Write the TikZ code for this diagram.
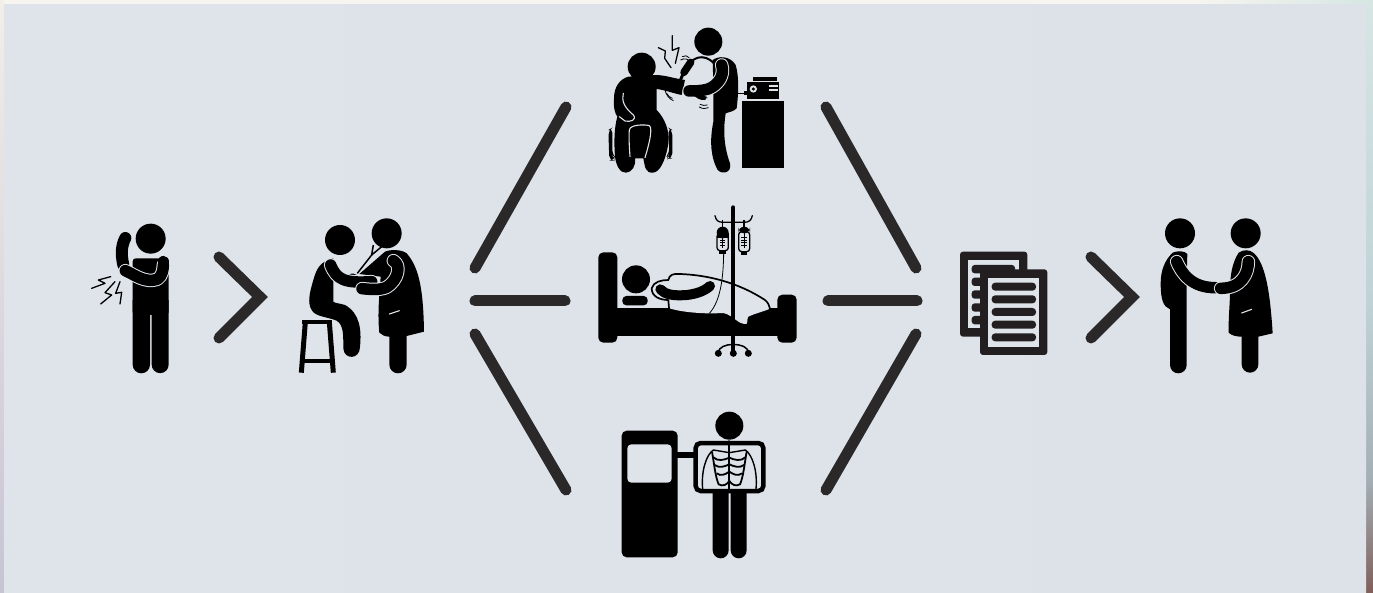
\documentclass[tikz,border=0pt]{standalone}
\definecolor{bgpanel}{HTML}{DEE4EA}
\definecolor{panelL}{HTML}{DFE4EA}
\definecolor{panelR}{HTML}{DCE2E8}
\definecolor{ink}{HTML}{000000}
\definecolor{chev}{HTML}{2A2828}
\definecolor{docink}{HTML}{231F20}
\definecolor{stripA}{HTML}{F6F5F0}
\definecolor{stripB}{HTML}{D6E6E3}
\definecolor{stripC}{HTML}{BFD3D6}
\definecolor{stripD}{HTML}{A3AFB5}
\definecolor{stripE}{HTML}{7F5F5A}
\definecolor{stripF}{HTML}{F3EEE8}
\definecolor{stripG}{HTML}{C8C3D3}
\tikzset{
  zoomed/.style n args={2}{shift={(#1,#2)},x=0.33333pt,y=-0.33333pt},
  connector/.style={draw=chev,line width=11pt,line cap=round,line join=miter},
  solidfig/.style={fill=ink,draw=none},
  cut/.style={draw=bgpanel,line width=1.1pt,line cap=round,line join=round},
  cutfill/.style={fill=bgpanel,draw=none},
  wire/.style={draw=ink,line width=1.3pt,line cap=round,line join=round},
  thinwire/.style={draw=ink,line width=0.8pt,line cap=round,line join=round},
}
\newcommand{\olimb}[2]{%
  \draw[bgpanel,line width=#1pt+2pt,line cap=round,line join=round] #2;
  \draw[ink,line width=#1pt,line cap=round,line join=round] #2;}
\newcommand{\plimb}[2]{%
  \draw[ink,line width=#1pt,line cap=round,line join=round] #2;}
\begin{document}
\begin{tikzpicture}[x=1pt,y=-1pt]
\useasboundingbox (0,0) rectangle (1373,593);
% backdrop strips
\fill[stripA] (0,0) rectangle (1373,6);
\shade[top color=stripF,bottom color=stripG] (0,0) rectangle (4,593);
\shade[left color=stripA,right color=stripB] (1200,0) rectangle (1373,5);
\shade[top color=stripB,bottom color=stripC] (1366,0) rectangle (1373,300);
\shade[top color=stripC,bottom color=stripD] (1366,300) rectangle (1373,480);
\shade[top color=stripD,bottom color=stripE] (1366,480) rectangle (1373,593);
\shade[left color=panelL,right color=panelR] (4,5) rectangle (1366,593);

% connectors
\coordinate (c1a) at (219,257); \coordinate (c1b) at (260,297); \coordinate (c1c) at (219,338);
\draw[connector] (c1a) -- (c1b) -- (c1c);
\coordinate (c2a) at (1091,257); \coordinate (c2b) at (1132,297); \coordinate (c2c) at (1091,338);
\draw[connector] (c2a) -- (c2b) -- (c2c);
\coordinate (l1a) at (475,268); \coordinate (l1b) at (566,107); \draw[connector] (l1a) -- (l1b);
\coordinate (l2a) at (475,301); \coordinate (l2b) at (565,301); \draw[connector] (l2a) -- (l2b);
\coordinate (l3a) at (475,334); \coordinate (l3b) at (566,490); \draw[connector] (l3a) -- (l3b);
\coordinate (r1a) at (826,107); \coordinate (r1b) at (916,268); \draw[connector] (r1a) -- (r1b);
\coordinate (r2a) at (828,301); \coordinate (r2b) at (917,301); \draw[connector] (r2a) -- (r2b);
\coordinate (r3a) at (826,490); \coordinate (r3b) at (916,334); \draw[connector] (r3a) -- (r3b);

% ---------- Figures 1 and 2 ----------
\begin{scope}[zoomed={70}{200}]
% pain man
\fill[ink] (242,116) circle (45);
\fill[ink,rounded corners=3] (188,175) -- (296,175) -- (296,345) -- (188,345) -- cycle;
\fill[ink] (188,300) -- (240,300) -- (240,494) arc (0:180:26) -- cycle;
\fill[ink] (245,300) -- (296,300) -- (296,494) arc (0:180:25.5) -- cycle;
\plimb{12}{(166,114) .. controls (155,135) and (152,160) .. (160,195)}
\olimb{11.5}{(166,212) .. controls (195,225) and (225,250) .. (262,238) .. controls (278,228) and (280,205) .. (280,195)}
\plimb{11.5}{(280,195) -- (280,185)}
\draw[wire] (122,230) -- (85,240) -- (105,250) -- (65,265);
\draw[wire] (135,245) -- (105,278) -- (125,285) -- (92,312);
\draw[wire] (150,245) -- (137,280) -- (155,277) -- (150,312);
% stool
\draw[ink,line width=4pt] (697,366) -- (787,366);
\draw[ink,line width=5pt] (706,366) -- (694,518);
\draw[ink,line width=5pt] (778,366) -- (790,518);
\draw[ink,line width=4pt] (700,482) -- (785,482);
% patient
\fill[ink] (810,120) circle (45);
\fill[ink] (790,175) .. controls (750,185) and (740,205) .. (730,240) .. controls (718,280) and (712,310) .. (725,330)
  .. controls (735,350) and (770,350) .. (800,362) .. controls (820,375) and (820,400) .. (820,445)
  .. controls (822,480) and (870,480) .. (870,440) .. controls (875,390) and (870,340) .. (825,315)
  .. controls (810,310) and (795,310) .. (790,305) -- (790,230) -- cycle;
% doctor
\fill[ink] (950,100) circle (45);
\fill[ink] (945,155) .. controls (960,148) and (995,148) .. (1010,160)
  .. controls (1045,200) and (1060,260) .. (1062,395) -- (1010,408) -- (1010,494) arc (0:180:26) -- (958,410)
  .. controls (945,410) and (935,405) .. (928,398) .. controls (922,340) and (928,290) .. (932,230) -- (868,222) -- cycle;
\draw[ink,line width=1.5pt] (910,135) -- (905,165) -- (862,220);
\draw[ink,line width=1.5pt] (935,140) -- (905,165);
\fill[ink,rounded corners=3] (835,221) rectangle (860,232);
\olimb{11.5}{(782,195) .. controls (800,240) and (825,250) .. (905,245)}
\olimb{11.5}{(970,182) .. controls (995,195) and (985,240) .. (950,262) .. controls (925,272) and (900,268) .. (876,266)}
\draw[cut] (958,342) -- (988,332);
\end{scope}

% ---------- Figure 3: therapy ----------
\begin{scope}[zoomed={590}{15}]
% chair
\fill[ink,rounded corners=5] (55,345) -- (67,338) -- (67,420) -- (73,425) -- (73,437) -- (58,437) -- cycle;
\fill[ink,rounded corners=5] (235,338) -- (247,345) -- (247,430) -- (232,432) -- (232,422) -- (238,415) -- cycle;
% patient
\fill[ink] (155,155) circle (42);
\fill[ink] (115,185) .. controls (90,192) and (72,215) .. (72,250) .. controls (70,280) and (75,295) .. (82,305)
 .. controls (72,340) and (72,385) .. (75,425) .. controls (78,450) and (90,475) .. (108,473)
 .. controls (125,472) and (138,455) .. (135,430) -- (160,430) .. controls (165,455) and (165,475) .. (190,473)
 .. controls (215,470) and (230,420) .. (235,385) .. controls (240,350) and (225,310) .. (200,285)
 -- (200,222) .. controls (225,225) and (250,235) .. (275,240) -- (285,195)
 .. controls (250,190) and (225,180) .. (195,180) -- cycle;
\draw[cut] (120,425) .. controls (118,395) and (116,365) .. (118,345) .. controls (120,328) and (165,328) .. (178,332) .. controls (190,340) and (175,395) .. (165,428);
\draw[cut] (100,235) .. controls (95,255) and (100,275) .. (130,300) .. controls (142,315) and (120,322) .. (105,318) -- (88,305);
% doctor
\fill[ink] (355,80) circle (42);
\fill[ink] (368,135) .. controls (385,122) and (420,122) .. (437,150) .. controls (448,185) and (445,240) .. (440,280)
 .. controls (430,290) and (420,290) .. (407,295) .. controls (400,340) and (400,390) .. (420,445)
 .. controls (428,478) and (385,482) .. (378,455) .. controls (358,410) and (362,360) .. (370,320) -- (370,210) -- cycle;
\draw[ink,line width=3pt,line cap=round] (282,170) -- (268,203);
\draw[ink,line width=7.5pt,line cap=round] (282,172) -- (302,142);
\draw[ink,line width=2pt,line cap=round] (290,158) .. controls (305,128) and (340,112) .. (372,145);
\olimb{11.5}{(395,150) .. controls (405,180) and (385,210) .. (355,222) .. controls (335,228) and (310,228) .. (297,228)}
\fill[ink,rounded corners=4] (305,238) -- (345,240) -- (355,252) -- (335,258) -- cycle;
% waves
\draw[thinwire] (277,125) .. controls (285,120) and (292,122) .. (297,128);
\draw[thinwire] (272,135) .. controls (283,128) and (295,132) .. (300,140);
\draw[thinwire] (230,235) .. controls (233,242) and (240,248) .. (247,250);
\draw[thinwire] (225,225) .. controls (228,240) and (238,252) .. (250,257);
\draw[thinwire] (330,268) .. controls (337,272) and (345,272) .. (352,270);
\draw[thinwire] (328,276) .. controls (337,282) and (348,282) .. (355,278);
% bolts
\draw[wire] (205,98) -- (226,108) -- (224,130) -- (243,158);
\draw[wire] (247,62) -- (247,106) -- (267,98) -- (256,145);
% machine
\fill[ink] (456,258) rectangle (581,458);
\draw[ink,line width=1pt] (430,235) -- (472,235);
\fill[ink] (462,228) rectangle (474,240);
\fill[ink] (472,200) rectangle (568,252);
\fill[ink] (490,186) rectangle (560,198);
\fill[bgpanel] (490,222) circle (11);
\fill[ink] (490,222) circle (5);
\fill[bgpanel] (538,211) rectangle (563,217);
\fill[bgpanel] (538,222) rectangle (563,228);
\end{scope}

% ---------- Figure 4: bed ----------
\begin{scope}[zoomed={590}{200}]
\fill[ink,rounded corners=5] (25,157) rectangle (82,428);
\fill[ink,rounded corners=5] (562,284) rectangle (620,428);
\fill[ink] (80,325) rectangle (565,408);
\fill[ink] (138,238) circle (42);
\fill[ink,rounded corners=4] (97,288) rectangle (173,316);
% blanket
\fill[cutfill] (235,240) .. controls (238,224) and (250,220) .. (270,222)
 .. controls (350,225) and (440,245) .. (525,300) .. controls (538,310) and (538,320) .. (540,326)
 .. controls (520,335) and (495,340) .. (475,350) .. controls (468,360) and (478,375) .. (462,372)
 .. controls (445,370) and (430,350) .. (410,342) .. controls (395,335) and (385,342) .. (360,340)
 .. controls (320,340) and (270,335) .. (238,325) -- (235,300) .. controls (210,300) and (185,290) .. (185,265)
 .. controls (190,245) and (215,240) .. (235,240) -- cycle;
\draw[ink,line width=1.7pt,line cap=round,line join=round] (237,325) -- (235,300) .. controls (210,300) and (185,290) .. (185,265)
 .. controls (190,245) and (215,240) .. (235,240) .. controls (238,224) and (250,220) .. (270,222)
 .. controls (350,225) and (440,245) .. (525,300) .. controls (535,308) and (538,318) .. (540,326);
\plimb{10}{(211,268) .. controls (225,284) and (250,288) .. (290,285) .. controls (320,282) and (345,272) .. (360,258)}
% IV stand
\draw[ink,line width=4pt,line cap=round] (430,22) -- (430,455);
\draw[ink,line width=1.5pt] (385,458) .. controls (385,425) and (475,425) .. (475,458);
\fill[ink] (385,460) circle (10.5);
\fill[ink] (430,460) circle (10.5);
\fill[ink] (475,460) circle (10.5);
\draw[ink,line width=1.3pt,line cap=round] (375,47) .. controls (378,62) and (385,67) .. (400,67) -- (462,67) .. controls (478,67) and (484,60) .. (487,47);
% left bag
\draw[ink,line width=1.5pt] (398,60) -- (398,85);
\fill[ink,rounded corners=6] (380,80) rectangle (416,115);
\fill[ink] (380,100) rectangle (416,115);
\draw[ink,line width=1.3pt,rounded corners=3] (381,100) rectangle (415,152);
\draw[ink,line width=0.9pt] (398,110) -- (398,145) (390,120) -- (406,120) (390,128) -- (406,128) (390,136) -- (406,136);
\fill[ink] (388,152) rectangle (408,162);
% right bag
\draw[ink,line width=1.5pt] (462,60) -- (462,85);
\fill[ink,rounded corners=6] (445,80) rectangle (480,100);
\draw[ink,line width=1.3pt,rounded corners=3] (446,95) rectangle (479,155);
\draw[ink,line width=0.9pt] (462,100) -- (462,145) (454,112) -- (470,112) (454,120) -- (470,120) (454,128) -- (470,128) (454,136) -- (470,136);
\fill[ink] (452,155) rectangle (472,165);
% tube
\draw[ink,line width=0.8pt] (401,160) .. controls (400,220) and (395,300) .. (358,340);
\end{scope}

% ---------- Figure 5: x-ray ----------
\begin{scope}[zoomed={610}{405}]
\fill[ink,rounded corners=5] (35,77) rectangle (203,457);
\fill[bgpanel,rounded corners=4] (52,118) rectangle (185,233);
\fill[ink] (200,140) rectangle (255,158);
\fill[ink] (358,62) circle (42);
\fill[ink] (308,260) -- (356,260) -- (356,436) arc (0:180:24) -- cycle;
\fill[ink] (362,260) -- (410,260) -- (410,436) arc (0:180:24) -- cycle;
\draw[ink,line width=4.5pt,rounded corners=5] (257,114) rectangle (460,258);
\draw[ink,line width=1.8pt,line cap=round] (358,108) -- (358,258);
\foreach \m/\s in {358/1,358/-1}{
 \begin{scope}[shift={(\m,0)},xscale=\s]
  \draw[ink,line width=1.4pt] (-80,252) .. controls (-85,200) and (-70,150) .. (-48,135) -- (0,143);
  \draw[ink,line width=1.8pt] (-52,140) .. controls (-45,180) and (-42,215) .. (-32,238) .. controls (-20,245) and (-8,240) .. (0,228);
  \draw[ink,line width=1.8pt] (-48,157) .. controls (-35,170) and (-15,165) .. (0,158);
  \draw[ink,line width=1.8pt] (-44,180) .. controls (-30,190) and (-15,185) .. (0,178);
  \draw[ink,line width=1.8pt] (-38,205) .. controls (-25,215) and (-12,208) .. (0,200);
 \end{scope}}
\end{scope}

% ---------- Figure 6: documents ----------
\begin{scope}[zoomed={950}{210}]
\fill[docink,rounded corners=3] (30,125) rectangle (232,380);
\fill[bgpanel] (55,150) rectangle (208,355);
\foreach \y in {165,203,241,280,318}{\fill[docink,rounded corners=3] (65,\y) rectangle (195,\y+25);}
\fill[docink,rounded corners=3] (90,178) rectangle (292,435);
\fill[bgpanel] (115,203) rectangle (268,410);
\foreach \y in {218,256,294,332,370}{\fill[docink,rounded corners=3.5] (125,\y) rectangle (258,\y+24);}
\end{scope}

% ---------- Figure 7: handshake ----------
\begin{scope}[zoomed={950}{210}]
\fill[ink] (690,70) circle (45);
\fill[ink] (887,70) circle (45);
\fill[ink] (668,128) .. controls (680,122) and (705,122) .. (712,132) -- (710,200) -- (710,465) arc (0:180:25) -- (660,298)
 .. controls (640,290) and (632,270) .. (632,220) .. controls (632,180) and (645,150) .. (668,128) -- cycle;
\fill[ink] (866,128) .. controls (880,118) and (900,118) .. (912,130)
 .. controls (945,160) and (960,240) .. (968,370) -- (925,380) -- (925,463) arc (0:180:25) -- (875,380)
 .. controls (860,380) and (845,377) .. (836,368) .. controls (835,320) and (840,280) .. (840,245)
 .. controls (840,200) and (845,160) .. (866,128) -- cycle;
\olimb{11.5}{(680,155) .. controls (695,190) and (725,233) .. (795,233)}
\olimb{11.5}{(895,155) .. controls (895,190) and (875,235) .. (812,235)}
\draw[cut] (875,309) -- (905,298);
\end{scope}
\end{tikzpicture}
\end{document}
